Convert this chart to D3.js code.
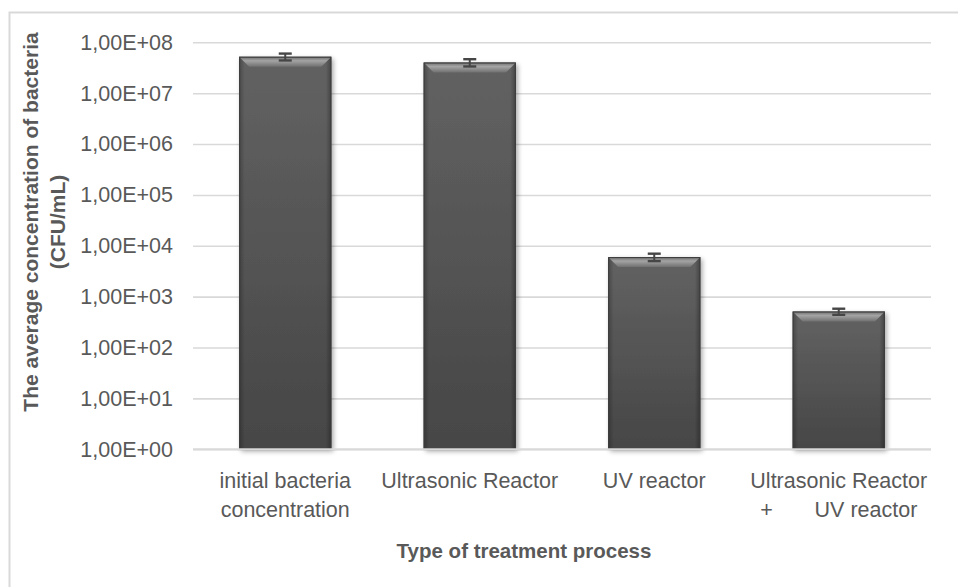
<!DOCTYPE html>
<html>
<head>
<meta charset="utf-8">
<script src="https://cdn.jsdelivr.net/npm/d3@7/dist/d3.min.js"></script>
<style>
  html, body { margin: 0; padding: 0; background: #ffffff; }
  svg { display: block; }
  text { font-family: "Liberation Sans", Arial, sans-serif; fill: #595959; }
</style>
</head>
<body>
<svg id="chart" width="958" height="587"></svg>
<script>
// ---- data ----
const categories = ["initial bacteria concentration", "Ultrasonic Reactor", "UV reactor", "Ultrasonic Reactor + UV reactor"];
const categoryLines = [
  ["initial bacteria", "concentration"],
  ["Ultrasonic Reactor"],
  ["UV reactor"],
  ["Ultrasonic Reactor", "+       UV reactor"]
];
const values = [5.2e7, 4.0e7, 6.0e3, 5.1e2];
const errors = [8e6, 6.5e6, 1.0e3, 70];
const tickValues = [1, 10, 100, 1e3, 1e4, 1e5, 1e6, 1e7, 1e8];
const tickLabels = ["1,00E+00", "1,00E+01", "1,00E+02", "1,00E+03", "1,00E+04", "1,00E+05", "1,00E+06", "1,00E+07", "1,00E+08"];
const yTitleLines = ["The average concentration of bacteria", "(CFU/mL)"];
const xTitle = "Type of treatment process";

(function() {
// ---- layout ----
const svg = d3.select("#chart");
const pL = 193, pR = 931, pT = 42.3, pB = 449.3;

const y = d3.scaleLog().domain([1, 1e8]).range([pB, pT]);
const x = d3.scaleBand().domain(categories).range([pL, pR]).paddingInner(0.5).paddingOuter(0.25);

// chart area border (top & left visible)
svg.append("path")
  .attr("d", `M9.5,587 L9.5,12.5 L958,12.5`)
  .attr("fill", "none").attr("stroke", "#d9d9d9").attr("stroke-width", 2);

// defs
const defs = svg.append("defs");
const bodyGrad = defs.append("linearGradient").attr("id", "bodyGrad").attr("x1", 0).attr("y1", 0).attr("x2", 0).attr("y2", 1);
bodyGrad.append("stop").attr("offset", "0%").attr("stop-color", "#626262");
bodyGrad.append("stop").attr("offset", "100%").attr("stop-color", "#464646");
const sideGrad = defs.append("linearGradient").attr("id", "sideGrad").attr("x1", 0).attr("y1", 0).attr("x2", 1).attr("y2", 0);
sideGrad.append("stop").attr("offset", "0%").attr("stop-color", "#000").attr("stop-opacity", 0.25);
sideGrad.append("stop").attr("offset", "6%").attr("stop-color", "#000").attr("stop-opacity", 0.0);
sideGrad.append("stop").attr("offset", "94%").attr("stop-color", "#000").attr("stop-opacity", 0.0);
sideGrad.append("stop").attr("offset", "100%").attr("stop-color", "#000").attr("stop-opacity", 0.3);
const bevelGrad = defs.append("linearGradient").attr("id", "bevelGrad").attr("x1", 0).attr("y1", 0).attr("x2", 0).attr("y2", 1);
bevelGrad.append("stop").attr("offset", "0%").attr("stop-color", "#6e6e6e");
bevelGrad.append("stop").attr("offset", "40%").attr("stop-color", "#a4a4a4");
bevelGrad.append("stop").attr("offset", "100%").attr("stop-color", "#707070");
const shadow = defs.append("filter").attr("id", "shadow").attr("x", "-10%").attr("y", "-5%").attr("width", "130%").attr("height", "115%");
shadow.append("feGaussianBlur").attr("in", "SourceAlpha").attr("stdDeviation", 2.5);
shadow.append("feOffset").attr("dx", 2).attr("dy", 2).attr("result", "blur");
shadow.append("feComponentTransfer").append("feFuncA").attr("type", "linear").attr("slope", 0.35);
const merge = shadow.append("feMerge");
merge.append("feMergeNode");
merge.append("feMergeNode").attr("in", "SourceGraphic");

// y axis with gridlines
const yAxis = d3.axisLeft(y)
  .tickValues(tickValues)
  .tickFormat((d, i) => tickLabels[i])
  .tickSize(-(pR - pL))
  .tickPadding(20);
const gy = svg.append("g").attr("transform", `translate(${pL},0)`).call(yAxis);
gy.select(".domain").remove();
gy.selectAll(".tick line").attr("stroke", "#d9d9d9").attr("stroke-width", 1.6);
gy.selectAll(".tick text")
  .attr("font-size", 21.5).attr("fill", "#595959")
  .style("font-family", '"Liberation Sans", Arial, sans-serif');

// bars
const bars = svg.append("g").selectAll("g.bar").data(values).join("g").attr("class", "bar");
const b = 10;
bars.each(function(v, i) {
  const g = d3.select(this);
  const bx = x(categories[i]), bw = x.bandwidth();
  const by = y(v), bh = y(1) - by;
  g.append("rect").attr("x", bx).attr("y", by).attr("width", bw).attr("height", bh)
    .attr("fill", "url(#bodyGrad)").attr("filter", "url(#shadow)");
  g.append("rect").attr("x", bx).attr("y", by).attr("width", bw).attr("height", bh)
    .attr("fill", "url(#sideGrad)");
  g.append("polygon")
    .attr("points", [[bx, by], [bx + bw, by], [bx + bw - b, by + b], [bx + b, by + b]].map(p => p.join(",")).join(" "))
    .attr("fill", "url(#bevelGrad)");
  g.append("rect").attr("x", bx + 0.5).attr("y", by + 0.5).attr("width", bw - 1).attr("height", bh - 1)
    .attr("fill", "none").attr("stroke", "#3c3c3c").attr("stroke-width", 1);
});

// x baseline
svg.append("line").attr("x1", pL).attr("x2", pR).attr("y1", pB).attr("y2", pB)
  .attr("stroke", "#d9d9d9").attr("stroke-width", 2);

// error bars
const eb = svg.append("g").selectAll("g.err").data(values).join("g").attr("class", "err");
eb.each(function(v, i) {
  const g = d3.select(this);
  const cx = x(categories[i]) + x.bandwidth() / 2;
  const yHi = y(v + errors[i]), yLo = y(v - errors[i]);
  const cw = 6.5;
  g.append("line").attr("x1", cx).attr("x2", cx).attr("y1", yHi).attr("y2", yLo).attr("stroke", "#464646").attr("stroke-width", 2);
  g.append("line").attr("x1", cx - cw).attr("x2", cx + cw).attr("y1", yHi).attr("y2", yHi).attr("stroke", "#464646").attr("stroke-width", 2.4);
  g.append("line").attr("x1", cx - cw).attr("x2", cx + cw).attr("y1", yLo).attr("y2", yLo).attr("stroke", "#464646").attr("stroke-width", 2.4);
});

// x category labels
const xl = svg.append("g").selectAll("text").data(categoryLines).join("text")
  .attr("x", (d, i) => x(categories[i]) + x.bandwidth() / 2)
  .attr("y", 488)
  .attr("text-anchor", "middle")
  .attr("font-size", 21.5)
  .style("white-space", "pre")
  .attr("xml:space", "preserve");
xl.each(function(lines) {
  const t = d3.select(this);
  const x0 = t.attr("x");
  lines.forEach((ln, j) => {
    t.append("tspan").attr("x", x0).attr("dy", j === 0 ? 0 : 29).text(ln);
  });
});

// x title
svg.append("text").attr("x", 524).attr("y", 558).attr("text-anchor", "middle")
  .attr("font-size", 20.5).attr("font-weight", "bold").text(xTitle);

// y title
const yt = svg.append("text").attr("transform", "translate(38,222) rotate(-90)")
  .attr("text-anchor", "middle").attr("font-size", 21).attr("font-weight", "bold");
yTitleLines.forEach((ln, j) => {
  yt.append("tspan").attr("x", 0).attr("dy", j === 0 ? 0 : 27).text(ln);
});
})();
</script>
</body>
</html>
